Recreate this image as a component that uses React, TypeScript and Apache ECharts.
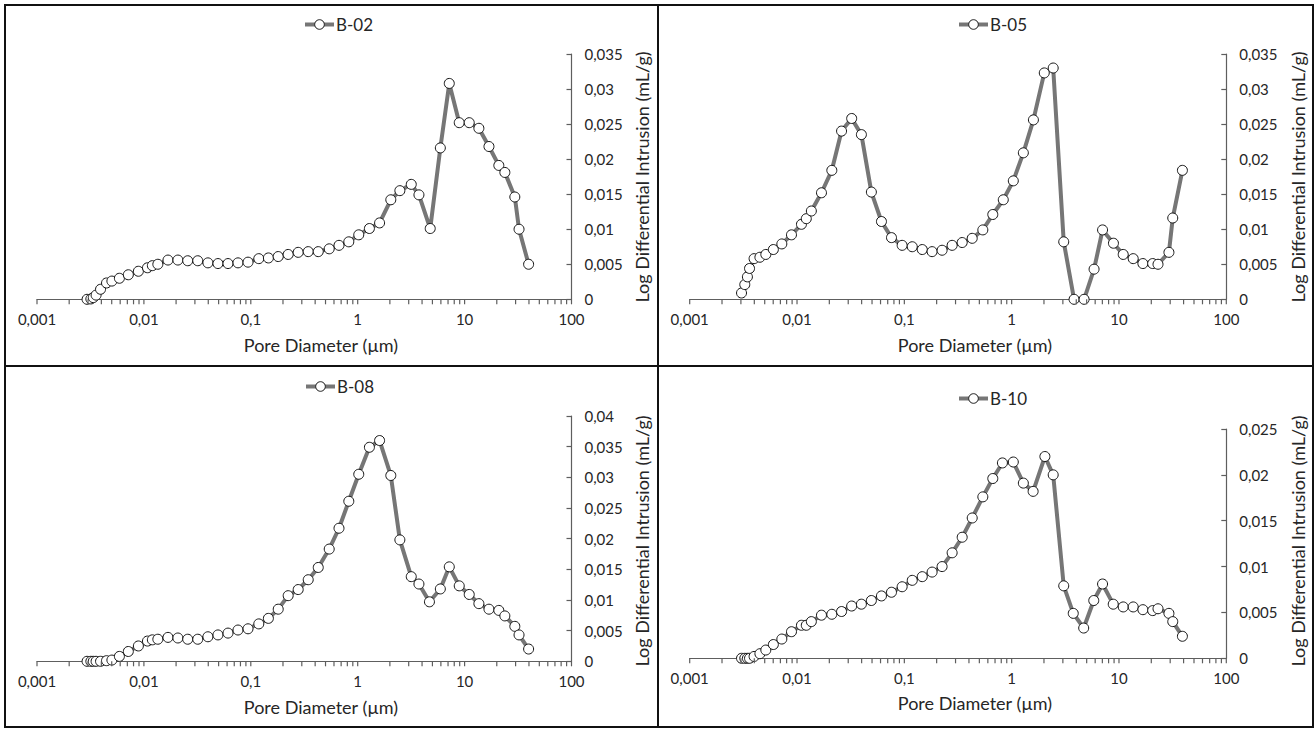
import React, { useEffect, useRef } from "react";
import * as echarts from "echarts";

// ---- Data ----
const seriesNames = ["B-02", "B-05", "B-08", "B-10"];

const diamB02 = [0.00294, 0.00319, 0.00336, 0.00357, 0.00393, 0.00447, 0.00502, 0.0059, 0.00715, 0.00888, 0.0108, 0.012, 0.0135, 0.0168, 0.0208, 0.0257, 0.0319, 0.0397, 0.0493, 0.0612, 0.0759, 0.0942, 0.1188, 0.1461, 0.1805, 0.2237, 0.2776, 0.3445, 0.4276, 0.5414, 0.6683, 0.8255, 1.023, 1.287, 1.602, 2.04, 2.48, 3.17, 3.74, 4.77, 5.93, 7.19, 8.91, 11.05, 13.6, 16.9, 20.9, 23.8, 29.5, 32.3, 39.7];
const intrB02 = [0, 0.00005, 0.00024, 0.0006, 0.00143, 0.00233, 0.0026, 0.003, 0.0035, 0.004, 0.0045, 0.0048, 0.005, 0.0056, 0.0056, 0.0055, 0.0055, 0.0052, 0.0051, 0.0051, 0.0052, 0.0053, 0.0058, 0.0059, 0.0061, 0.0064, 0.0067, 0.0068, 0.0068, 0.0072, 0.0077, 0.0082, 0.0092, 0.0101, 0.0109, 0.0142, 0.0155, 0.0164, 0.0149, 0.0101, 0.0216, 0.0308, 0.0252, 0.0252, 0.0244, 0.0218, 0.0191, 0.0181, 0.0146, 0.01, 0.005];

const diamB05 = [0.00304, 0.00326, 0.00345, 0.00361, 0.00398, 0.00451, 0.00512, 0.00602, 0.00722, 0.00888, 0.011, 0.0122, 0.0136, 0.0169, 0.0211, 0.026, 0.0323, 0.0398, 0.0493, 0.0612, 0.0759, 0.0954, 0.1185, 0.1469, 0.1814, 0.2248, 0.2788, 0.3459, 0.429, 0.5388, 0.667, 0.8355, 1.036, 1.285, 1.595, 2.013, 2.438, 3.056, 3.815, 4.73, 5.86, 7.03, 8.88, 10.95, 13.57, 16.7, 20.6, 23.1, 29.2, 31.7, 39.0];
const intrB05 = [0.0009, 0.0021, 0.0032, 0.0044, 0.0058, 0.006, 0.0064, 0.0071, 0.0079, 0.0092, 0.0107, 0.0115, 0.0126, 0.0152, 0.0184, 0.024, 0.0258, 0.0235, 0.0153, 0.0111, 0.0088, 0.0077, 0.0075, 0.0071, 0.0068, 0.007, 0.0077, 0.0081, 0.0087, 0.0099, 0.0121, 0.0142, 0.0169, 0.0209, 0.0256, 0.0323, 0.033, 0.0082, 0, 0, 0.0043, 0.0099, 0.008, 0.0064, 0.0058, 0.0051, 0.0051, 0.005, 0.0067, 0.0116, 0.0184];

const diamB08 = [0.00294, 0.00319, 0.00336, 0.00357, 0.00393, 0.00447, 0.00502, 0.0059, 0.00715, 0.00888, 0.0108, 0.012, 0.0135, 0.0168, 0.0208, 0.0257, 0.0319, 0.0397, 0.0493, 0.0612, 0.0759, 0.0942, 0.1188, 0.1461, 0.1805, 0.2237, 0.2776, 0.3445, 0.4276, 0.5414, 0.6683, 0.8255, 1.023, 1.287, 1.602, 2.04, 2.48, 3.17, 3.74, 4.69, 5.93, 7.19, 8.91, 11.05, 13.6, 16.9, 20.9, 23.8, 29.5, 32.3, 39.7];
const intrB08 = [0, 0, 0, 0, 0, 0.0001, 0.0002, 0.0008, 0.0016, 0.0025, 0.0033, 0.0035, 0.0036, 0.0039, 0.0038, 0.0036, 0.0036, 0.004, 0.0043, 0.0046, 0.0051, 0.0053, 0.0061, 0.007, 0.0085, 0.0107, 0.0117, 0.0133, 0.0153, 0.0183, 0.0217, 0.0261, 0.0305, 0.0349, 0.036, 0.0303, 0.0198, 0.0138, 0.0126, 0.0097, 0.0118, 0.0154, 0.0123, 0.0109, 0.0094, 0.0085, 0.0083, 0.0074, 0.0057, 0.0043, 0.002];

const diamB10 = [0.00304, 0.00326, 0.00345, 0.00361, 0.00398, 0.00451, 0.00512, 0.00602, 0.00722, 0.00888, 0.011, 0.0122, 0.0136, 0.0169, 0.0211, 0.026, 0.0323, 0.0398, 0.0493, 0.0612, 0.0759, 0.0954, 0.1185, 0.1469, 0.1814, 0.2248, 0.2788, 0.3459, 0.429, 0.5388, 0.667, 0.82, 1.036, 1.285, 1.585, 2.04, 2.438, 3.056, 3.75, 4.69, 5.82, 7.03, 8.84, 10.95, 13.57, 16.7, 20.6, 23.1, 29.2, 31.7, 39.0];
const intrB10 = [0, 0, 0, 0, 0.0002, 0.0005, 0.0009, 0.0015, 0.0021, 0.0029, 0.0036, 0.0036, 0.004, 0.0047, 0.0048, 0.0051, 0.0057, 0.0059, 0.0063, 0.0068, 0.0072, 0.0078, 0.0085, 0.0089, 0.0094, 0.01, 0.0115, 0.0132, 0.0153, 0.0176, 0.0196, 0.0213, 0.0214, 0.0191, 0.0182, 0.022, 0.02, 0.0079, 0.0049, 0.0033, 0.0063, 0.0081, 0.0059, 0.0056, 0.0056, 0.0053, 0.0052, 0.0054, 0.0049, 0.004, 0.0024];

const yMaxes = [0.035, 0.035, 0.04, 0.025];
const yInterval = 0.005;
const xMin = 0.001;
const xMax = 100;
const xTitle = "Pore Diameter (µm)";
const yTitle = "Log Differential Intrusion (mL/g)";

const FONT = "Lato, 'Open Sans', sans-serif";
const TEXT = "#262626";
const AXIS = "#5e5e5e";
const LINE = "#767676";

// layout of the four panels
const grids = [
  { left: 37, top: 54, width: 534.5, height: 245.3 },
  { left: 689.7, top: 54, width: 536.6, height: 245.3 },
  { left: 37, top: 416, width: 534.5, height: 245.3 },
  { left: 689.7, top: 429, width: 536.6, height: 229.3 },
];
const legendPos = [
  { left: 303, top: 16 },
  { left: 957, top: 16 },
  { left: 304, top: 378 },
  { left: 957, top: 390 },
];
const xTitlePos = [
  [321, 345],
  [975, 345],
  [321, 707],
  [975, 703],
];
const yTitlePos = [
  [642, 177],
  [1298, 177],
  [642, 541],
  [1298, 541],
];

const diams = [diamB02, diamB05, diamB08, diamB10];
const intrs = [intrB02, intrB05, intrB08, intrB10];

// tick marks at 1..9 x each decade of the log axis
const logTicks: number[] = [];
[0.001, 0.01, 0.1, 1, 10].forEach((d) => {
  for (let m = 1; m <= 9; m++) logTicks.push(+(m * d).toPrecision(3));
});
logTicks.push(100);

const fmt = (v: number) => String(+Number(v).toPrecision(3)).replace(".", ",");

export default function App() {
  const ref = useRef<HTMLDivElement>(null);
  useEffect(() => {
    document.body.style.margin = "0";
    if (!ref.current) return;
    const chart = echarts.init(ref.current, undefined, { renderer: "svg" });

    const lineSeries = seriesNames.map((n, i) => ({
      name: n,
      type: "line",
      xAxisIndex: i,
      yAxisIndex: i,
      data: diams[i].map((x, j) => [x, intrs[i][j]]),
      symbol: "circle",
      symbolSize: 10,
      showSymbol: true,
      showAllSymbol: true,
      z: 3,
      lineStyle: { color: LINE, width: 4 },
      itemStyle: { color: "#ffffff", borderColor: "#151515", borderWidth: 1 },
      emphasis: { disabled: true },
    }));

    const frame = [
      {
        type: "rect",
        shape: { x: 5, y: 5, width: 1308, height: 722 },
        style: { fill: "none", stroke: "#111", lineWidth: 2 },
        silent: true,
      },
      {
        type: "line",
        shape: { x1: 658, y1: 5, x2: 658, y2: 727 },
        style: { stroke: "#111", lineWidth: 2 },
        silent: true,
      },
      {
        type: "line",
        shape: { x1: 5, y1: 366, x2: 1313, y2: 366 },
        style: { stroke: "#111", lineWidth: 2 },
        silent: true,
      },
    ];
    const titles = [
      ...xTitlePos.map((p) => ({
        type: "text",
        x: p[0],
        y: p[1],
        silent: true,
        style: { text: xTitle, fontSize: 18, fontFamily: FONT, fill: TEXT, align: "center", verticalAlign: "middle" },
      })),
      ...yTitlePos.map((p) => ({
        type: "text",
        x: p[0],
        y: p[1],
        rotation: Math.PI / 2,
        silent: true,
        style: { text: yTitle, fontSize: 18, fontFamily: FONT, fill: TEXT, align: "center", verticalAlign: "middle" },
      })),
    ];

    const option: any = {
      animation: false,
      backgroundColor: "#ffffff",
      grid: grids.map((g) => ({ ...g, containLabel: false })),
      legend: seriesNames.map((n, i) => ({
        data: [n],
        left: legendPos[i].left,
        top: legendPos[i].top,
        padding: 0,
        itemWidth: 29,
        itemHeight: 12,
        itemGap: 5,
        lineStyle: { width: 4, color: LINE },
        itemStyle: { color: "#ffffff", borderColor: "#151515", borderWidth: 1 },
        textStyle: { fontSize: 17, fontFamily: FONT, color: TEXT, padding: [0, 0, 0, -3] },
        selectedMode: false,
      })),
      xAxis: grids.map((_, i) => ({
        type: "log",
        logBase: 10,
        gridIndex: i,
        min: xMin,
        max: xMax,
        splitLine: { show: false },
        axisLine: { show: true, lineStyle: { color: AXIS, width: 1.2 } },
        axisTick: { show: false },
        minorTick: { show: false },
        axisLabel: { margin: 12, fontSize: 15, fontFamily: FONT, color: TEXT, formatter: fmt },
      })),
      yAxis: grids.map((_, i) => ({
        type: "value",
        gridIndex: i,
        position: "right",
        min: 0,
        max: yMaxes[i],
        interval: yInterval,
        splitLine: { show: false },
        axisLine: { show: true, onZero: false, lineStyle: { color: AXIS, width: 1.2 } },
        axisTick: { show: true, inside: true, length: 5, lineStyle: { color: AXIS, width: 1.2 } },
        axisLabel: { margin: 13, fontSize: 15, fontFamily: FONT, color: TEXT, formatter: fmt },
      })),
      series: lineSeries,
      graphic: [...frame, ...titles],
    };
    chart.setOption(option);

    // x-axis tick marks (1..9 x each decade), positioned through the axis scale
    const tickEls: any[] = [];
    grids.forEach((_, i) => {
      logTicks.forEach((v) => {
        const p = chart.convertToPixel({ xAxisIndex: i, yAxisIndex: i } as any, [v, 0]) as number[];
        if (!p) return;
        tickEls.push({
          type: "line",
          silent: true,
          z: 10,
          shape: { x1: p[0], y1: p[1], x2: p[0], y2: p[1] + 5 },
          style: { stroke: AXIS, lineWidth: 1.2 },
        });
      });
    });
    chart.setOption({ graphic: [...frame, ...titles, ...tickEls] });

    return () => chart.dispose();
  }, []);
  return <div ref={ref} style={{ width: 1316, height: 732, position: "absolute", left: 0, top: 0 }} />;
}
